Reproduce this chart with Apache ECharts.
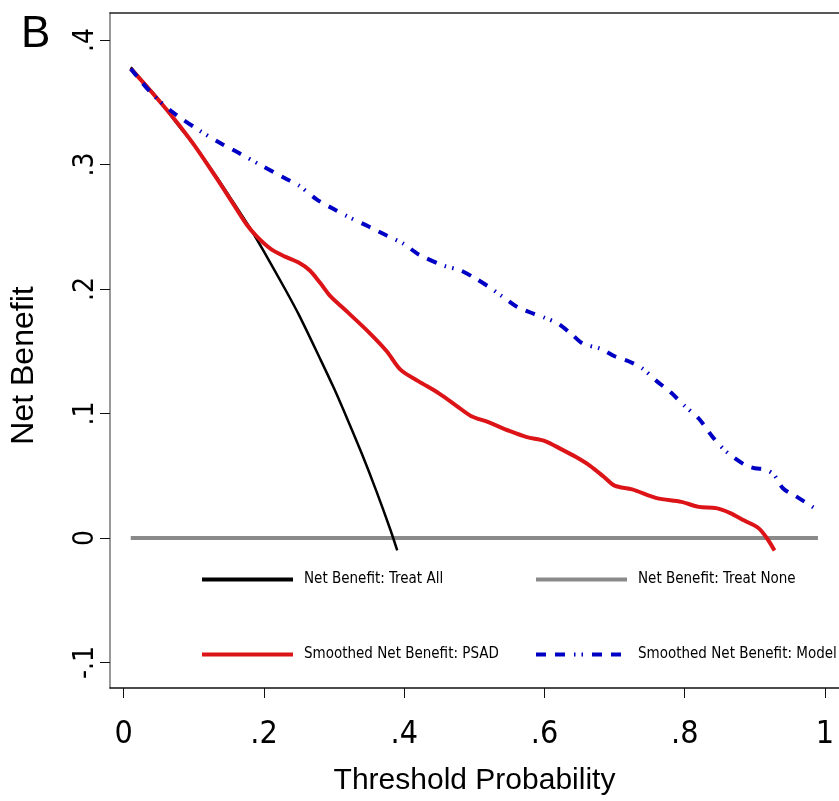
<!DOCTYPE html>
<html>
<head>
<meta charset="utf-8">
<script src="https://cdn.jsdelivr.net/npm/echarts@6.0.0/dist/echarts.min.js"></script>
<style>
html,body{margin:0;padding:0;background:#fff;}
#chart{width:839px;height:801px;}
</style>
</head>
<body>
<div id="chart"></div>
<script>
// ---- data ----
var xTicks = [0, 0.2, 0.4, 0.6, 0.8, 1];
var yTicks = [-0.1, 0, 0.1, 0.2, 0.3, 0.4];

var treatAllX = [0.01, 0.03, 0.05, 0.08, 0.10, 0.13, 0.15, 0.18, 0.20, 0.23, 0.25, 0.28, 0.30, 0.32, 0.34, 0.36, 0.38, 0.39];
var treatAllY = [0.378, 0.365, 0.352, 0.330, 0.316, 0.292, 0.275, 0.249, 0.230, 0.200, 0.179, 0.144, 0.120, 0.094, 0.067, 0.038, 0.007, -0.010];

var treatNoneX = [0.01, 0.99];
var treatNoneY = [0, 0];

var psadX = [0.01, 0.04, 0.07, 0.10, 0.13, 0.16, 0.175, 0.19, 0.21, 0.23, 0.25, 0.265, 0.28, 0.295, 0.32, 0.35, 0.375, 0.395, 0.42, 0.45, 0.475, 0.495, 0.52, 0.55, 0.575, 0.60, 0.625, 0.645, 0.665, 0.685, 0.70, 0.725, 0.76, 0.795, 0.82, 0.845, 0.865, 0.885, 0.905, 0.917, 0.928];
var psadY = [0.377, 0.358, 0.338, 0.316, 0.291, 0.265, 0.252, 0.242, 0.232, 0.226, 0.221, 0.215, 0.205, 0.194, 0.181, 0.165, 0.150, 0.135, 0.126, 0.116, 0.106, 0.098, 0.093, 0.086, 0.081, 0.078, 0.071, 0.065, 0.058, 0.049, 0.042, 0.039, 0.032, 0.029, 0.025, 0.024, 0.020, 0.014, 0.008, 0.000, -0.010];

var modelX = [0.01, 0.04, 0.07, 0.106, 0.135, 0.165, 0.20, 0.23, 0.25, 0.275, 0.30, 0.32, 0.35, 0.375, 0.40, 0.42, 0.455, 0.48, 0.50, 0.52, 0.54, 0.56, 0.585, 0.60, 0.62, 0.64, 0.655, 0.68, 0.70, 0.72, 0.74, 0.76, 0.78, 0.80, 0.82, 0.84, 0.86, 0.885, 0.90, 0.915, 0.927, 0.94, 0.96, 0.985];
var modelY = [0.377, 0.357, 0.342, 0.328, 0.318, 0.309, 0.298, 0.289, 0.283, 0.272, 0.264, 0.258, 0.250, 0.243, 0.236, 0.228, 0.219, 0.215, 0.209, 0.202, 0.194, 0.186, 0.180, 0.177, 0.172, 0.163, 0.156, 0.152, 0.146, 0.142, 0.136, 0.126, 0.117, 0.106, 0.096, 0.081, 0.069, 0.059, 0.056, 0.055, 0.051, 0.040, 0.033, 0.024];

var seriesNames = ['Net Benefit: Treat All', 'Net Benefit: Treat None', 'Smoothed Net Benefit: PSAD', 'Smoothed Net Benefit: Model'];
var panelLetter = 'B';
var xTitle = 'Threshold Probability';
var yTitle = 'Net Benefit';

function zip(xs, ys) { return xs.map(function (x, i) { return [x, ys[i]]; }); }
function fmt(v) {
  var r = Math.round(v * 10) / 10;
  if (r === 0) return '0';
  if (r === 1) return '1';
  return String(r).replace('0.', '.');
}

var narrow = "'Liberation Sans Narrow', 'DejaVu Sans Condensed', 'Liberation Sans', sans-serif";
var sans = "'Liberation Sans', Arial, sans-serif";

var colors = { all: '#000000', none: '#8a8a8a', psad: '#dc1418', model: '#0000c4' };
var modelDash = [10, 9, 10, 9, 1.5, 6, 1.5, 9];

function legendBox(idx, left, top, lineStyle) {
  return {
    show: true, left: left, top: top, padding: 0,
    itemWidth: 91, itemHeight: 14, selectedMode: false,
    data: [{ name: seriesNames[idx], lineStyle: lineStyle, itemStyle: { opacity: 0 } }],
    textStyle: { fontFamily: narrow, fontSize: 15, color: '#000', padding: [0, 0, 0, 6] }
  };
}

var chart = echarts.init(document.getElementById('chart'), null, { renderer: 'canvas' });
var option = {
  animation: false,
  backgroundColor: '#ffffff',
  title: {
    text: panelLetter, left: 16, top: 8,
    textStyle: { fontFamily: sans, fontSize: 44, fontWeight: 'normal', color: '#000' }
  },
  grid: { left: 110, top: 13, width: 741, height: 675, containLabel: false },
  legend: [
    legendBox(0, 200, 572, { width: 4, color: colors.all }),
    legendBox(1, 534, 572, { width: 4, color: colors.none }),
    legendBox(2, 200, 647, { width: 4, color: colors.psad }),
    legendBox(3, 534, 647, { width: 4, color: colors.model, type: modelDash })
  ],
  xAxis: [{
    type: 'value', min: -0.0196, max: 1.02,
    axisLine: { show: true, onZero: false, lineStyle: { color: '#111', width: 1.5 } },
    axisTick: { show: true, inside: false, length: 10, customValues: xTicks, lineStyle: { color: '#111', width: 1 } },
    axisLabel: { show: true, customValues: xTicks, formatter: fmt, margin: 31, fontFamily: narrow, fontSize: 32, color: '#000' },
    splitLine: { show: false },
    name: xTitle, nameLocation: 'middle', nameGap: 78,
    nameTextStyle: { fontFamily: sans, fontSize: 30, color: '#000' }
  }, {
    type: 'value', position: 'top', min: -0.0196, max: 1.02,
    axisLine: { show: true, onZero: false, lineStyle: { color: '#222', width: 1.5 } },
    axisTick: { show: false }, axisLabel: { show: false }, splitLine: { show: false }
  }],
  yAxis: {
    type: 'value', min: -0.1205, max: 0.4217,
    axisLine: { show: true, onZero: false, lineStyle: { color: '#777', width: 1.5 } },
    axisTick: { show: true, inside: false, length: 10, customValues: yTicks, lineStyle: { color: '#111', width: 1 } },
    axisLabel: { show: true, customValues: yTicks, formatter: fmt, rotate: 90, margin: 10, fontFamily: narrow, fontSize: 28, color: '#000' },
    splitLine: { show: false },
    name: yTitle, nameLocation: 'middle', nameGap: 70, nameRotate: 90,
    nameTextStyle: { fontFamily: sans, fontSize: 32, color: '#000', padding: [0, 30, 0, 0] }
  },
  series: [
    { name: seriesNames[1], type: 'line', symbol: 'none', data: zip(treatNoneX, treatNoneY),
      lineStyle: { color: colors.none, width: 4 }, itemStyle: { color: colors.none }, z: 2 },
    { name: seriesNames[0], type: 'line', symbol: 'none', smooth: 0.3, data: zip(treatAllX, treatAllY),
      lineStyle: { color: colors.all, width: 2.5 }, itemStyle: { color: colors.all }, z: 3 },
    { name: seriesNames[2], type: 'line', symbol: 'none', smooth: 0.3, data: zip(psadX, psadY),
      lineStyle: { color: colors.psad, width: 4 }, itemStyle: { color: colors.psad }, z: 4 },
    { name: seriesNames[3], type: 'line', symbol: 'none', smooth: 0.3, data: zip(modelX, modelY),
      lineStyle: { color: colors.model, width: 4, type: modelDash }, itemStyle: { color: colors.model }, z: 5 }
  ]
};
chart.setOption(option);
</script>
</body>
</html>
